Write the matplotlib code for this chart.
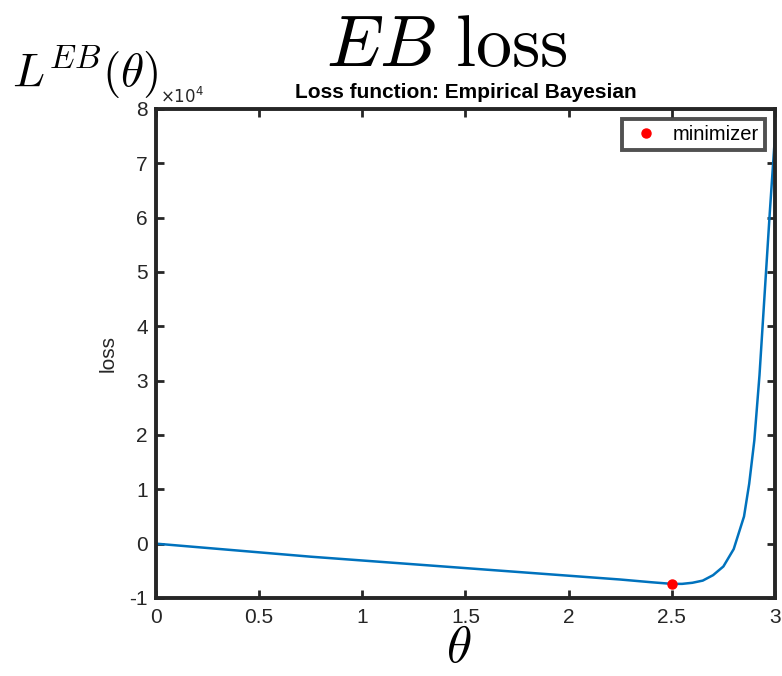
import matplotlib.pyplot as plt
import numpy as np

plt.rcParams['mathtext.fontset'] = 'cm'
plt.rcParams['font.family'] = ['Liberation Sans', 'DejaVu Sans']

# loss curve (values in units of 1e4)
theta = [0.0, 0.25, 0.5, 0.75, 1.0, 1.25, 1.5, 1.75, 2.0, 2.25, 2.4, 2.5,
         2.55, 2.6, 2.65, 2.7, 2.75, 2.8, 2.85, 2.875, 2.9, 2.925, 2.95, 2.975, 3.0]
loss = [0.0, -0.08, -0.16, -0.24, -0.31, -0.38, -0.45, -0.52, -0.59, -0.66, -0.71, -0.74,
        -0.74, -0.72, -0.68, -0.58, -0.42, -0.1, 0.5, 1.1, 1.9, 3.1, 4.6, 6.1, 7.5]
min_theta = [2.5]
min_loss = [-0.74]

xticks = [0, 0.5, 1, 1.5, 2, 2.5, 3]
xtick_labels = ['0', '0.5', '1', '1.5', '2', '2.5', '3']
yticks = list(range(-1, 9))
ytick_labels = ['-1', '0', '1', '2', '3', '4', '5', '6', '7', '8']

fig = plt.figure(figsize=(7.82, 6.76), dpi=100)
ax = fig.add_axes([0.1995, 0.1154, 0.7915, 0.7234])

ax.plot(theta, loss, color='#0072BD', lw=1.8)
ax.plot(min_theta, min_loss, 'o', color='red', ms=6.5, label='minimizer', zorder=3)

ax.set_xlim(0, 3)
ax.set_ylim(-1, 8)
ax.set_xticks(xticks)
ax.set_xticklabels(xtick_labels)
ax.set_yticks(yticks)
ax.set_yticklabels(ytick_labels)
ax.tick_params(direction='in', length=6, width=2, top=True, right=True,
               labelsize=15, colors='#262626')
ax.tick_params(axis='x', pad=7)
ax.tick_params(axis='y', pad=6)
for sp in ax.spines.values():
    sp.set_linewidth(2.8)
    sp.set_color('#262626')

ax.set_title('Loss function: Empirical Bayesian', fontsize=15,
             fontweight='bold', pad=8)
ax.set_ylabel('loss', fontsize=15, color='#262626', labelpad=8)

leg = ax.legend(loc='upper right', fontsize=14.5, handletextpad=0.4,
                borderaxespad=0.5, fancybox=False, handlelength=1.8,
                borderpad=0.3)
leg.get_frame().set_edgecolor('#262626')
leg.get_frame().set_linewidth(2.8)

fig.text(0.204, 0.8476, r'$\times10^4$', fontsize=12, color='#262626',
         ha='left', va='baseline', math_fontfamily='dejavusans')

# big LaTeX-style annotations
fig.text(0.572, 0.902, r'$EB\ \mathrm{loss}$', fontsize=52, ha='center', va='baseline')
fig.text(0.015, 0.893, r'$L^{EB}(\theta)$', fontsize=34, ha='left', va='center')
fig.text(0.586, 0.0765, r'$\theta$', fontsize=37, ha='center', va='top')

fig.savefig('out.png', dpi=100)
